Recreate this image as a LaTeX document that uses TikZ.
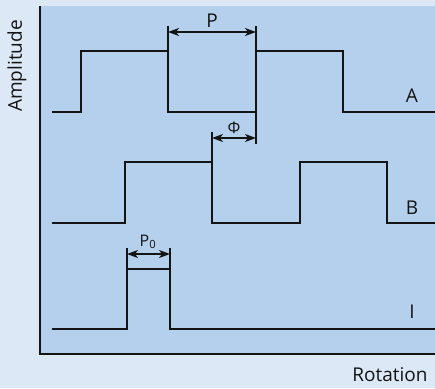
\documentclass[tikz,border=0pt]{standalone}
\usepackage{fontspec}
\setmainfont{Open Sans}
\usetikzlibrary{arrows.meta}
\definecolor{outerbg}{RGB}{220,232,246}
\definecolor{plotbg}{RGB}{180,208,237}
\definecolor{ink}{RGB}{20,20,20}
\tikzset{
  signal/.style={draw=ink,line width=1.7pt,line join=miter},
  axisline/.style={draw=ink,line width=1.7pt},
  tick/.style={draw=ink,line width=1.1pt},
  dim/.style={draw=ink,line width=1.1pt,{Stealth[length=11pt,width=8pt,inset=3pt]}-{Stealth[length=11pt,width=8pt,inset=3pt]}},
  lbl/.style={font=\fontsize{19}{21}\selectfont,text=ink,inner sep=0pt},
  sublbl/.style={font=\fontsize{16}{18}\selectfont,text=ink,inner sep=0pt}
}
\begin{document}
\begin{tikzpicture}[x=1pt,y=-1pt]
\fill[outerbg] (0,0) rectangle (435,388);
\useasboundingbox (0,0) rectangle (435,388);
\fill[plotbg] (40,6) rectangle (435,354);
\draw[axisline] (40,6) -- (40,354) -- (435,354);
% signals
\draw[signal] (52,112)--(81,112)--(81,51)--(168,51)--(168,112)--(256,112)--(256,51)--(343,51)--(343,112)--(435,112);
\draw[signal] (52,223)--(125,223)--(125,162)--(212,162)--(212,223)--(300,223)--(300,162)--(387,162)--(387,223)--(435,223);
\draw[signal] (52,329)--(127,329)--(127,269)--(170,269)--(170,329)--(435,329);
% P dimension
\coordinate (p1) at (168,32);
\coordinate (p2) at (256,32);
\draw[tick] (168,26) -- (168,51);
\draw[tick] (256,26) -- (256,51);
\draw[dim] (p1) -- (p2);
\node[lbl] (plbl) at (212,21) {P};
% Phi dimension
\coordinate (f1) at (212,138);
\coordinate (f2) at (256,138);
\draw[tick] (212,132) -- (212,162);
\draw[tick] (256,112) -- (256,144);
\draw[dim] (f1) -- (f2);
\node[sublbl] (flbl) at (234,128) {Φ};
% P0 dimension
\coordinate (q1) at (127,254);
\coordinate (q2) at (170,254);
\draw[tick] (127,248) -- (127,269);
\draw[tick] (170,248) -- (170,269);
\draw[dim] (q1) -- (q2);
\node[sublbl] (qlbl) at (148,242) {P\textsubscript{0}};
% labels
\node[lbl] (alab) at (412,96) {A};
\node[lbl] (blab) at (412,208) {B};
\node[lbl] (ilab) at (412,312) {I};
\node[lbl,rotate=90] (amp) at (17,66) {Amplitude};
\node[lbl] (rot) at (390,375) {Rotation};
\end{tikzpicture}
\end{document}
